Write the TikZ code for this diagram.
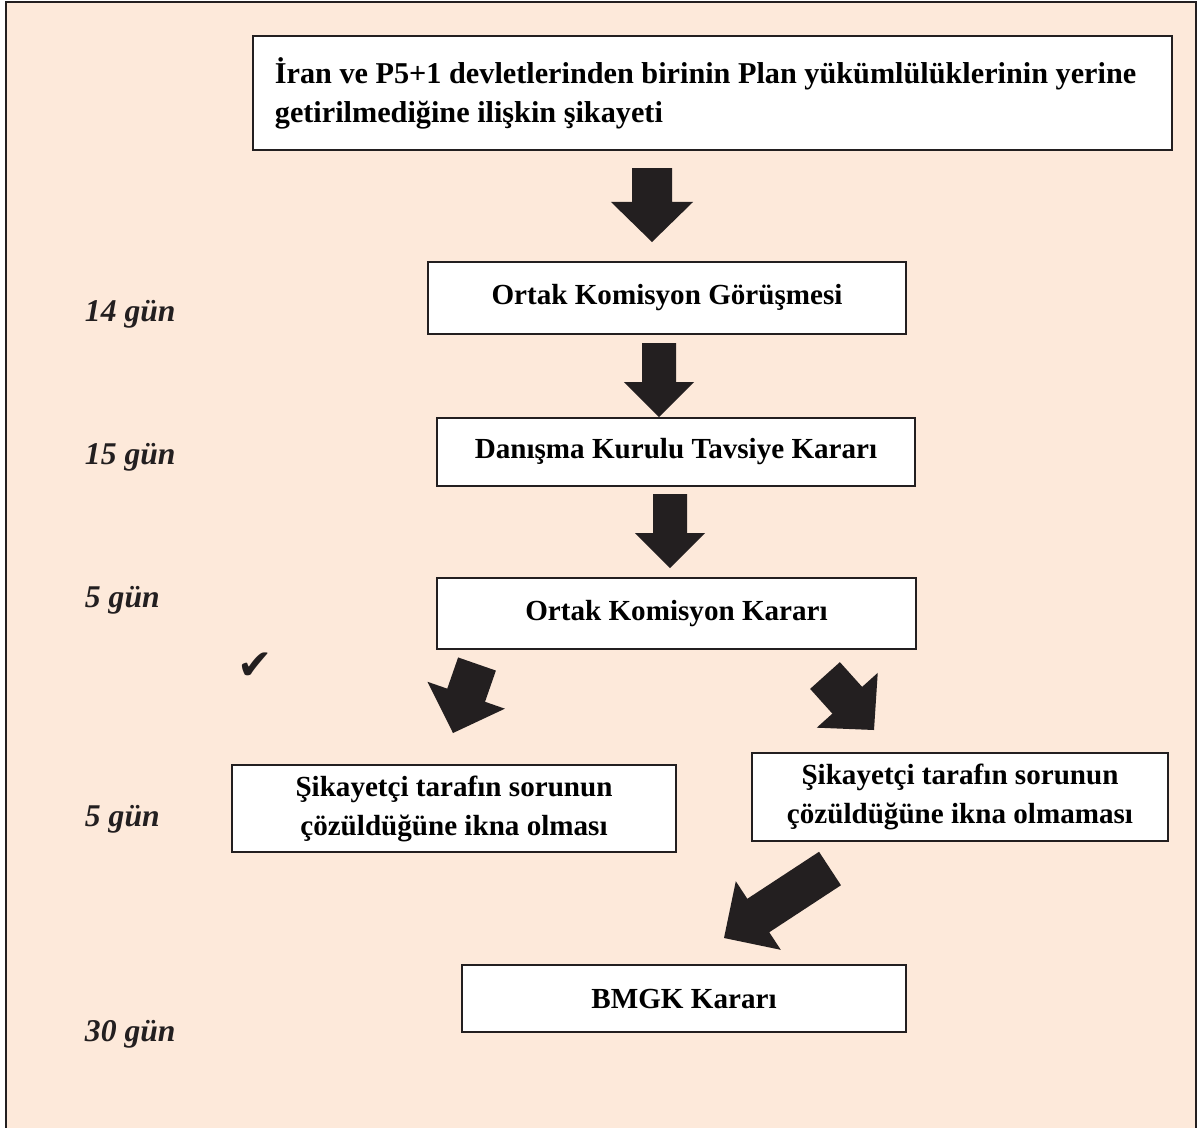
\documentclass[tikz,border=0pt]{standalone}
\usepackage{fontspec}
\setmainfont{Liberation Serif}
\newfontfamily\symfont{DejaVu Sans}
\usetikzlibrary{calc}

\definecolor{peach}{RGB}{253,233,218}
\definecolor{ink}{RGB}{35,31,32}

\tikzset{
  stepbox/.style={draw=ink, line width=1.4pt, fill=white, align=center,
    inner sep=0pt, font=\bfseries\fontsize{20.7}{27.7}\selectfont},
  daylabel/.style={anchor=west, text=ink, font=\bfseries\itshape\fontsize{22.5}{26}\selectfont},
}

% block arrow: tail, tip, shaft half width, head half width, head length
\newcommand{\fatarrow}[5]{%
  \coordinate (hb) at ($(#2)!#5!(#1)$);
  \fill[ink] ($(#1)!#3!90:(#2)$) -- ($(hb)!#3!90:(#2)$) -- ($(hb)!#4!90:(#2)$)
    -- (#2) -- ($(hb)!#4!-90:(#2)$) -- ($(hb)!#3!-90:(#2)$)
    -- ($(#1)!#3!-90:(#2)$) -- cycle;
}

\begin{document}
\begin{tikzpicture}[x=0.025cm, y=-0.025cm]
\useasboundingbox (0,0) rectangle (1198,1127);
\draw[ink, line width=1.4pt, fill=peach] (6,2) rectangle (1196,1160);

% boxes
\node[stepbox, align=flush left, text width=21.875cm, inner xsep=0.55cm, minimum height=2.85cm,
  font=\bfseries\fontsize{21.5}{27.7}\selectfont]
  (complaint) at (712.5,93) {İran ve P5+1 devletlerinden birinin Plan yükümlülüklerinin yerine\\getirilmediğine ilişkin şikayeti};
\node[stepbox, minimum width=11.95cm, minimum height=1.8cm] (meeting) at (667,298) {Ortak Komisyon Görüşmesi};
\node[stepbox, minimum width=11.95cm, minimum height=1.7cm] (advisory) at (676,452) {Danışma Kurulu Tavsiye Kararı};
\node[stepbox, minimum width=11.975cm, minimum height=1.775cm] (decision) at (676.5,613.5) {Ortak Komisyon Kararı};
\node[stepbox, minimum width=11.1cm, minimum height=2.175cm] (convinced) at (454,808.5) {Şikayetçi tarafın sorunun\\çözüldüğüne ikna olması};
\node[stepbox, minimum width=10.4cm, minimum height=2.2cm] (notconvinced) at (960,797) {Şikayetçi tarafın sorunun\\çözüldüğüne ikna olmaması};
\node[stepbox, minimum width=11.1cm, minimum height=1.675cm] (unsc) at (684,998.5) {BMGK Kararı};

% day counts
\node[daylabel] (d14) at (80,314) {14 gün};
\node[daylabel] (d15) at (80,457) {15 gün};
\node[daylabel] (d5a) at (80,600) {5 gün};
\node[daylabel] (d5b) at (80,819) {5 gün};
\node[daylabel] (d30) at (80,1034) {30 gün};

\node[text=ink, font=\symfont\fontsize{30}{30}\selectfont] (tick) at (255,666) {✔};

% arrows
\coordinate (a1s) at (652,168);   \coordinate (a1e) at (652,242);
\coordinate (a2s) at (659,343);   \coordinate (a2e) at (659,417);
\coordinate (a3s) at (670,494);   \coordinate (a3e) at (670,568);
\coordinate (d1s) at (477,664);   \coordinate (d1e) at (453,733);
\coordinate (d2s) at (825,675.5); \coordinate (d2e) at (874,730);
\coordinate (d3s) at (830,868.5); \coordinate (d3e) at (724,938);
\fatarrow{a1s}{a1e}{0.5cm}{1.025cm}{1cm}
\fatarrow{a2s}{a2e}{0.425cm}{0.875cm}{0.875cm}
\fatarrow{a3s}{a3e}{0.425cm}{0.875cm}{0.875cm}
\fatarrow{d1s}{d1e}{0.5cm}{1.025cm}{1cm}
\fatarrow{d2s}{d2e}{0.5cm}{1.025cm}{1cm}
\fatarrow{d3s}{d3e}{0.5cm}{1.025cm}{1.025cm}
\end{tikzpicture}
\end{document}
